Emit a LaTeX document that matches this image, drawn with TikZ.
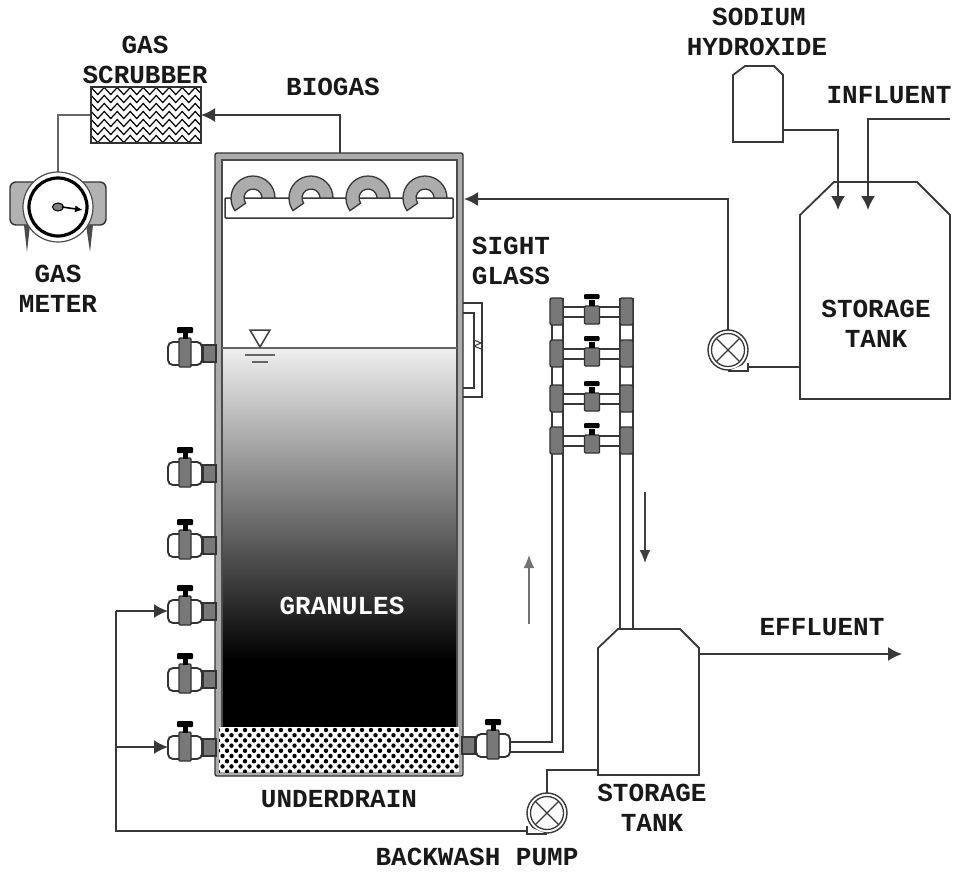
\documentclass[tikz,border=0pt]{standalone}
\usepackage{fontspec}
\setmonofont{Liberation Mono}
\usetikzlibrary{arrows.meta,calc,decorations.pathmorphing}
\definecolor{wallgray}{gray}{0.47}
\definecolor{pipegray}{gray}{0.22}
\tikzset{
  pipe/.style={line width=1.8pt,draw=pipegray},
  flow/.style={pipe,-{Latex[length=14pt,width=14pt]}},
  tag/.style={font=\ttfamily\bfseries\fontsize{26}{26}\selectfont,inner sep=0pt,text=black!90},
  hullgray/.style={fill=wallgray,draw=black!80,line width=1.4pt},
  valve/.pic={
    \draw[line width=1.9pt,draw=black!80,fill=white,rounded corners=5pt] (-17,-11) rectangle (17,12);
    \draw[hullgray] (18,-8) rectangle (31,9);
    \draw[hullgray,rounded corners=1pt] (-6,-15) rectangle (6,14);
    \fill[black] (-2.5,-22) rectangle (2.5,-14);
    \fill[black,rounded corners=1pt] (-8,-26) rectangle (8,-20);
  },
  branchvalve/.pic={
    \draw[hullgray,rounded corners=1pt] (-7,-1) rectangle (8,17);
    \fill[black] (-3,-7) rectangle (3,-1);
    \fill[black,rounded corners=1pt] (-7.5,-13) rectangle (8,-8);
  },
  pump/.pic={
    \draw[line width=1.4pt,draw=pipegray,fill=white] (0,0) circle (20);
    \draw[line width=1.3pt,draw=pipegray] (0,0) circle (16.5);
    \draw[line width=1.3pt,draw=pipegray] (-11.7,-11.7) -- (11.7,11.7) (-11.7,11.7) -- (11.7,-11.7);
    \draw[line width=1.8pt,draw=pipegray,fill=white] (20,13) -- (20,21) -- (0,21);
  },
  spout/.pic={
    \draw[line width=1.3pt,draw=pipegray,fill=gray!65] (22,0) arc (0:-215:22) -- (-215:9) arc (-215:0:9) -- cycle;
  }
}
\begin{document}
\begin{tikzpicture}[x=1pt,y=-1pt]
\useasboundingbox (0,0) rectangle (953,871);
% reactor
\coordinate (topnozzle) at (340,153);
\coordinate (feedin) at (464,199);
\draw[hullgray,fill=gray!65,rounded corners=2pt] (215,153) rectangle (463,776);
\fill[white] (222,160) rectangle (457,348);
\shade[top color=gray!12,bottom color=black] (222,348) rectangle (457,660);
\fill[black] (222,659) rectangle (457,727);
\draw[line width=1.4pt,draw=black!70] (222,348) -- (222,160) -- (457,160) -- (457,348);
\draw[line width=1.4pt,draw=black!70] (222,348) -- (222,727) (457,348) -- (457,727);
\fill[white] (219,727) rectangle (459,772);
\begin{scope}
\clip (219,727) rectangle (459,772);
\foreach \row in {0,...,8}{
  \pgfmathsetmacro{\shift}{mod(\row,2)*4.5}
  \foreach \col in {0,...,27}{
    \fill[black] ({218+\shift+\col*9},{730+\row*5.2}) circle (2.2);
  }
}
\end{scope}
\draw[pipe,draw=black!60] (222,348) -- (457,348);
% level mark
\draw[line width=1.5pt,draw=black!75] (250,330) -- (270,330) -- (260,347) -- cycle;
\draw[line width=1.8pt,draw=black!60] (245,355) -- (275,355) (252,362) -- (268,362);
% distributor
\draw[line width=1.5pt,draw=pipegray,fill=white,rounded corners=1pt] (225,198) rectangle (453,218);
\foreach \cx in {253,311,368,425}{
  \pic at (\cx,198) {spout};
}
% side valves
\foreach \vy in {353,473,545,611,679,747}{
  \pic at (185,\vy) {valve};
}
\pic[xscale=-1] at (493,745) {valve};
% sight glass
\draw[line width=1.4pt,draw=pipegray] (463,303) -- (482,303) -- (482,397) -- (463,397);
\draw[line width=1.4pt,draw=pipegray] (463,313) -- (474,313) -- (474,388) -- (463,388);
\draw[line width=1pt,draw=pipegray] (474,340) -- (481,343) -- (474,346) -- (481,349);
% riser and downcomer
\coordinate (riserA) at (552,298);
\coordinate (riserB) at (563,298);
\coordinate (fallA) at (620,298);
\coordinate (fallB) at (633,298);
\draw[pipe] (510,742) -- (552,742) -- (riserA);
\draw[pipe] (510,752) -- (563,752) -- (riserB);
\draw[pipe] (fallA) -- (620,630);
\draw[pipe] (fallB) -- (633,630);
\foreach \ty in {298,340,385,427}{
  \draw[pipe] (563,\ty+9) -- (620,\ty+9) (563,\ty+19) -- (620,\ty+19);
  \draw[hullgray,rounded corners=2pt] (550,\ty) rectangle (563,\ty+27);
  \draw[hullgray,rounded corners=2pt] (620,\ty) rectangle (633,\ty+27);
  \pic at (591.5,\ty+9) {branchvalve};
}
\draw[line width=1.5pt,draw=black!55,-{Latex[length=13pt,width=11pt]}] (529,624) -- (529,555);
\draw[line width=1.6pt,draw=black!75,-{Latex[length=13pt,width=11pt]}] (645,492) -- (645,563);
% lower storage tank
\coordinate (tankB) at (699,654);
\coordinate (effluentend) at (902,654);
\draw[pipe,fill=white] (598,648) -- (618,629) -- (680,629) -- (699,648) -- (699,775) -- (598,775) -- cycle;
\draw[flow] (tankB) -- (effluentend);
% backwash pump and its line
\coordinate (bwpump) at (547,813);
\coordinate (bwleft) at (116,831);
\coordinate (valveE) at (168,611);
\coordinate (valveF) at (168,747);
\draw[pipe] (bwpump) ++(0,-20) -- (547,770) -- (598,770);
\pic[xscale=-1] at (bwpump) {pump};
\draw[pipe] (527,831) -- (bwleft) -- (116,611);
\draw[flow] (116,611) -- (valveE);
\draw[flow] (116,747) -- (valveF);
% upper storage tank
\coordinate (feedpump) at (728,350);
\draw[pipe,fill=white] (800,215) -- (834,182) -- (917,182) -- (950,215) -- (950,399) -- (800,399) -- cycle;
\draw[pipe] (733,142) -- (733,75) -- (745,66) -- (774,66) -- (783,75) -- (783,142) -- cycle;
\draw[flow] (783,130) -- (838,130) -- (838,210);
\draw[flow] (950,119) -- (868,119) -- (868,210);
\draw[pipe] (748,367) -- (800,367);
\draw[flow] (728,330) -- (728,199) -- (feedin);
\pic at (feedpump) {pump};
% gas side
\coordinate (scrubberE) at (201,115);
\coordinate (scrubberW) at (91,115);
\coordinate (meterN) at (58,172);
\draw[flow] (topnozzle) -- (340,115) -- (scrubberE);
\draw[pipe,draw=black!60] (scrubberW) -- (58,115) -- (meterN);
\begin{scope}
\clip (91,87) rectangle (201,143);
\foreach \yy in {91,99,...,139}{
  \draw[line width=1.2pt,decorate,decoration={zigzag,segment length=13pt,amplitude=3.5pt}] (88,\yy) -- (206,\yy);
}
\end{scope}
\draw[line width=1.8pt,draw=black!80] (91,87) rectangle (201,143);
% gas meter
\draw[hullgray,fill=gray!60,rounded corners=6pt] (10,182) rectangle (106,225);
\fill[black!70] (24,225) -- (27,252) -- (30,225) -- cycle;
\fill[black!70] (86,225) -- (90,252) -- (93,225) -- cycle;
\draw[line width=1.2pt,draw=black!70,fill=white] (58,207) circle (35);
\draw[line width=3.2pt,fill=white] (58,207) circle (29);
\draw[line width=1pt,fill=gray] (58,207) ellipse (5.5 and 4);
\draw[line width=1.6pt,-{Latex[length=8pt,width=7pt]}] (62,207) -- (83,210);
% labels
\node[tag] (gaslabel) at (145,45) {GAS};
\node[tag] (scrubberlabel) at (145,75) {SCRUBBER};
\node[tag] (biogaslabel) at (333,87) {BIOGAS};
\node[tag] (sodiumlabel) at (759,17) {SODIUM};
\node[tag] (hydroxidelabel) at (757,47) {HYDROXIDE};
\node[tag] (influentlabel) at (889,95) {INFLUENT};
\node[tag] (sightlabel) at (511,246) {SIGHT};
\node[tag] (glasslabel) at (511,276) {GLASS};
\node[tag] (meterAlabel) at (58,274) {GAS};
\node[tag] (meterBlabel) at (58,304) {METER};
\node[tag] (storeAlabel) at (876,309) {STORAGE};
\node[tag] (tankAlabel) at (876,339) {TANK};
\node[tag,text=white] (granuleslabel) at (342,606) {GRANULES};
\node[tag] (underdrainlabel) at (339,799) {UNDERDRAIN};
\node[tag] (storeBlabel) at (652,793) {STORAGE};
\node[tag] (tankBlabel) at (652,823) {TANK};
\node[tag] (backwashlabel) at (477,857) {BACKWASH PUMP};
\node[tag] (effluentlabel) at (822,627) {EFFLUENT};
\end{tikzpicture}
\end{document}
